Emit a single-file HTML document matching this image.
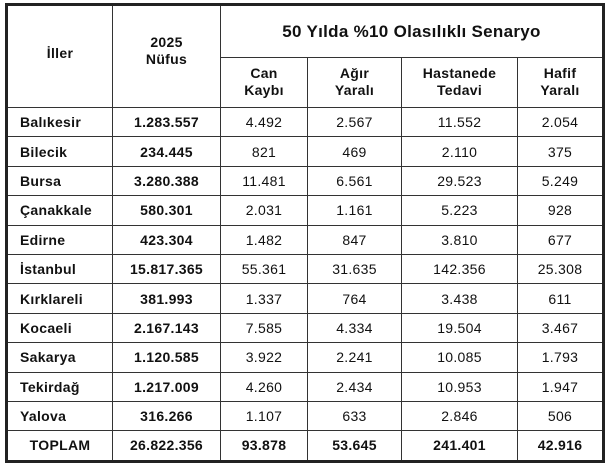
<!DOCTYPE html>
<html><head><meta charset="utf-8"><style>
body{margin:0;width:606px;height:464px;background:#fff;overflow:hidden;font-family:"Liberation Sans",sans-serif;color:#111}
table{position:absolute;left:5px;top:3px;border-collapse:collapse;table-layout:fixed;border:3px solid #222}
td{border:1.5px solid #333;text-align:center;font-size:14px;padding:0;height:28.4px;letter-spacing:0.3px}
td.n{font-weight:bold;text-align:left;padding-left:12px}
td.b{font-weight:bold}
.h td{font-weight:bold;line-height:17px}
.t{font-size:17px!important}
</style></head><body>
<table>
<colgroup><col style="width:106px"><col style="width:108px"><col style="width:87px"><col style="width:94px"><col style="width:116px"><col style="width:86px"></colgroup>
<tr class="h"><td rowspan="2" style="height:95px;padding-bottom:6px">İller</td><td rowspan="2" style="padding-bottom:12px">2025<br>Nüfus</td><td colspan="4" class="t" style="height:48px">50 Yılda %10 Olasılıklı Senaryo</td></tr>
<tr class="h"><td style="height:47px">Can<br>Kaybı</td><td>Ağır<br>Yaralı</td><td>Hastanede<br>Tedavi</td><td>Hafif<br>Yaralı</td></tr>
<tr><td class="n">Balıkesir</td><td class="b">1.283.557</td><td>4.492</td><td>2.567</td><td>11.552</td><td>2.054</td></tr>
<tr><td class="n">Bilecik</td><td class="b">234.445</td><td>821</td><td>469</td><td>2.110</td><td>375</td></tr>
<tr><td class="n">Bursa</td><td class="b">3.280.388</td><td>11.481</td><td>6.561</td><td>29.523</td><td>5.249</td></tr>
<tr><td class="n">Çanakkale</td><td class="b">580.301</td><td>2.031</td><td>1.161</td><td>5.223</td><td>928</td></tr>
<tr><td class="n">Edirne</td><td class="b">423.304</td><td>1.482</td><td>847</td><td>3.810</td><td>677</td></tr>
<tr><td class="n">İstanbul</td><td class="b">15.817.365</td><td>55.361</td><td>31.635</td><td>142.356</td><td>25.308</td></tr>
<tr><td class="n">Kırklareli</td><td class="b">381.993</td><td>1.337</td><td>764</td><td>3.438</td><td>611</td></tr>
<tr><td class="n">Kocaeli</td><td class="b">2.167.143</td><td>7.585</td><td>4.334</td><td>19.504</td><td>3.467</td></tr>
<tr><td class="n">Sakarya</td><td class="b">1.120.585</td><td>3.922</td><td>2.241</td><td>10.085</td><td>1.793</td></tr>
<tr><td class="n">Tekirdağ</td><td class="b">1.217.009</td><td>4.260</td><td>2.434</td><td>10.953</td><td>1.947</td></tr>
<tr><td class="n">Yalova</td><td class="b">316.266</td><td>1.107</td><td>633</td><td>2.846</td><td>506</td></tr>
<tr style="font-weight:bold"><td class="b">TOPLAM</td><td class="b">26.822.356</td><td class="b">93.878</td><td class="b">53.645</td><td class="b">241.401</td><td class="b">42.916</td></tr>
</table>
</body></html>
